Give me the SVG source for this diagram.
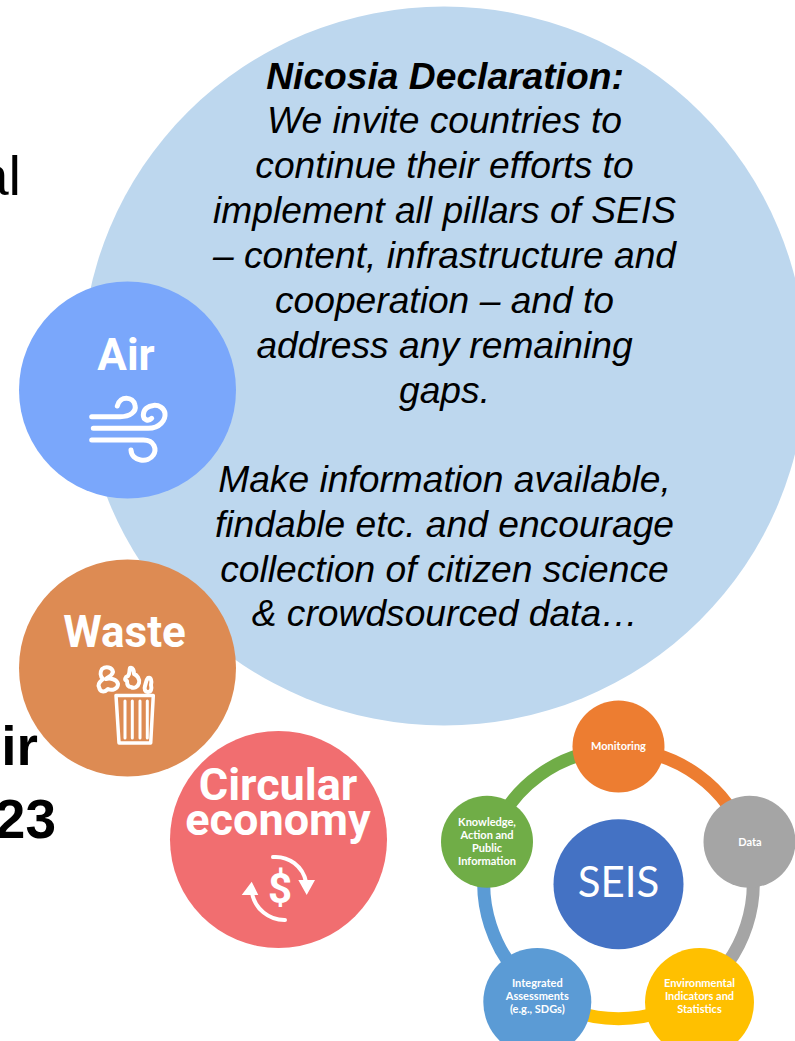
<svg xmlns="http://www.w3.org/2000/svg" width="795" height="1041" viewBox="0 0 795 1041">
<style>
.big{font:italic 37.200px "Liberation Sans",Arial,sans-serif;fill:#000;text-anchor:middle}
.cut{font:bold 55px "Liberation Sans",Arial,sans-serif;fill:#000}
.ttl{font:bold 44px Roboto,sans-serif;fill:#fff;text-anchor:middle}
.sm{font:bold 11px Lato,sans-serif;fill:#fff;text-anchor:middle}
.ic{fill:none;stroke:#fff;stroke-linecap:round;stroke-linejoin:round}
.arc{fill:none;stroke-width:13}
</style>
<rect width="795" height="1041" fill="#fff"/>
<g id="fragments">
<text x="21" y="195" text-anchor="end" style="font:56px 'Liberation Sans',Arial,sans-serif">al</text>
<text x="38" y="765" text-anchor="end" class="cut">ir</text>
<text x="56" y="838" text-anchor="end" class="cut">23</text>
</g>
<g id="declaration">
<ellipse cx="444" cy="366" rx="362" ry="359.500" fill="#bdd7ee"/>
<text class="big" x="445" y="88.800" style="font-weight:bold">Nicosia Declaration:</text>
<text class="big" x="444.500" y="132.800">We invite countries to</text>
<text class="big" x="444.500" y="177.800">continue their efforts to</text>
<text class="big" x="444.500" y="222.800">implement all pillars of SEIS</text>
<text class="big" x="444.500" y="267.800">– content, infrastructure and</text>
<text class="big" x="444.500" y="312.800">cooperation – and to</text>
<text class="big" x="444.500" y="357.800">address any remaining</text>
<text class="big" x="444.500" y="402.800">gaps.</text>
<text class="big" x="444.500" y="491.800">Make information available,</text>
<text class="big" x="444.500" y="536.800">findable etc. and encourage</text>
<text class="big" x="444.500" y="581.500">collection of citizen science</text>
<text class="big" x="445" y="625.500">&amp; crowdsourced data…</text>
</g>
<g id="air">
<circle cx="127.500" cy="390" r="108.500" fill="#7aa7fb"/>
<text class="ttl" x="126" y="370">Air</text>
<g class="ic" stroke-width="5">
<path d="M91.700 416.700H120C130 416.700 136.700 411.700 135 405C133.300 396.700 120 395 117.300 406"/>
<path d="M93.300 428.300H148.300C160 428.300 165.700 420 165 413.300C163.300 401.700 143.300 403.300 143.300 415C143.300 420 148.300 421.700 151.700 418.300"/>
<path d="M91.700 440H143.300C155 440 156.700 450 153.300 455C148.300 463.300 131.700 461.700 131 450"/>
</g>
</g>
<g id="waste">
<circle cx="127.500" cy="668" r="108.500" fill="#dd8b53"/>
<text class="ttl" x="124.500" y="647">Waste</text>
<g class="ic">
<path stroke-width="3.500" d="M116 695.500H153.300L150.700 743H119Z"/>
<path stroke-width="3" d="M125 701V738M132.300 701V738M140 701V738M147.300 701V738"/>
<path stroke-width="4" d="M102 669C106 666 112 667 113 672C112 676 108 677 106 679C110 678 117 679 118 684C118 689 112 691 108 689C104 693 100 692 99 687C97 683 101 681 103 679C100 676 100 672 102 669Z"/>
<path stroke-width="4" d="M130 668C133 667 134 671 134 674C137 675 140 679 139 683C138 687 134 689 131 687C128 687 127 684 127 681C124 680 125 677 128 676C130 674 129 671 130 668Z"/>
<path stroke-width="4" d="M148 678C151 677 152 681 151 685C152 689 151 692 148 692C145 692 144 689 145 686C146 683 146 680 148 678Z"/>
</g>
</g>
<g id="circular-economy">
<circle cx="278.500" cy="839.500" r="108.500" fill="#f16e70"/>
<text class="ttl" x="278" y="800" style="font-size:45px">Circular</text>
<text class="ttl" x="278" y="835" style="font-size:45px">economy</text>
<text x="280" y="903" text-anchor="middle" style="font:bold 42px Roboto,sans-serif;fill:#fff">$</text>
<path class="ic" stroke-width="4" d="M273 857A31 31 0 0 1 306 882"/>
<path class="ic" stroke-width="4" d="M285 920A33 33 0 0 1 252 893"/>
<path d="M298.300 880H315L306.700 895Z M241.700 895H258.300L251.700 881.700Z" fill="#fff"/>
</g>
<g id="connectors">
<path class="arc" stroke="#ed7d31" d="M618.500 749.500A134.500 134.500 0 0 1 746.400 842"/>
<path class="arc" stroke="#a5a5a5" d="M746.400 842A134.500 134.500 0 0 1 697.500 993"/>
<path class="arc" stroke="#ffc000" d="M697.500 993A134.500 134.500 0 0 1 539.500 993"/>
<path class="arc" stroke="#5b9bd5" d="M539.500 993A134.500 134.500 0 0 1 490.600 842"/>
<path class="arc" stroke="#70ad47" d="M490.600 842A134.500 134.500 0 0 1 618.500 749.500"/>
</g>
<g id="monitoring"><circle cx="618.500" cy="746.500" r="46" fill="#ed7d31"/><text class="sm" x="618.500" y="750">Monitoring</text></g>
<g id="data"><circle cx="749.500" cy="841.700" r="46" fill="#a5a5a5"/><text class="sm" x="750" y="846">Data</text></g>
<g id="indicators"><circle cx="699.500" cy="1002.500" r="54.500" fill="#ffc000"/><text class="sm" x="699.500" y="987">Environmental</text><text class="sm" x="699.500" y="1000">Indicators and</text><text class="sm" x="699.500" y="1013">Statistics</text></g>
<g id="assessments"><circle cx="537.300" cy="1002" r="54" fill="#5b9bd5"/><text class="sm" x="537.300" y="987">Integrated</text><text class="sm" x="537.300" y="1000">Assessments</text><text class="sm" x="537.300" y="1013">(e.g., SDGs)</text></g>
<g id="knowledge"><circle cx="487" cy="841.700" r="46" fill="#70ad47"/><text class="sm" x="487" y="826">Knowledge,</text><text class="sm" x="487" y="839">Action and</text><text class="sm" x="487" y="852">Public</text><text class="sm" x="487" y="865">Information</text></g>
<g id="seis"><circle cx="618.500" cy="884.300" r="65" fill="#4472c4"/><text x="618.500" y="897" text-anchor="middle" style="font:42px Lato,sans-serif;fill:#fff">SEIS</text></g>
</svg>
